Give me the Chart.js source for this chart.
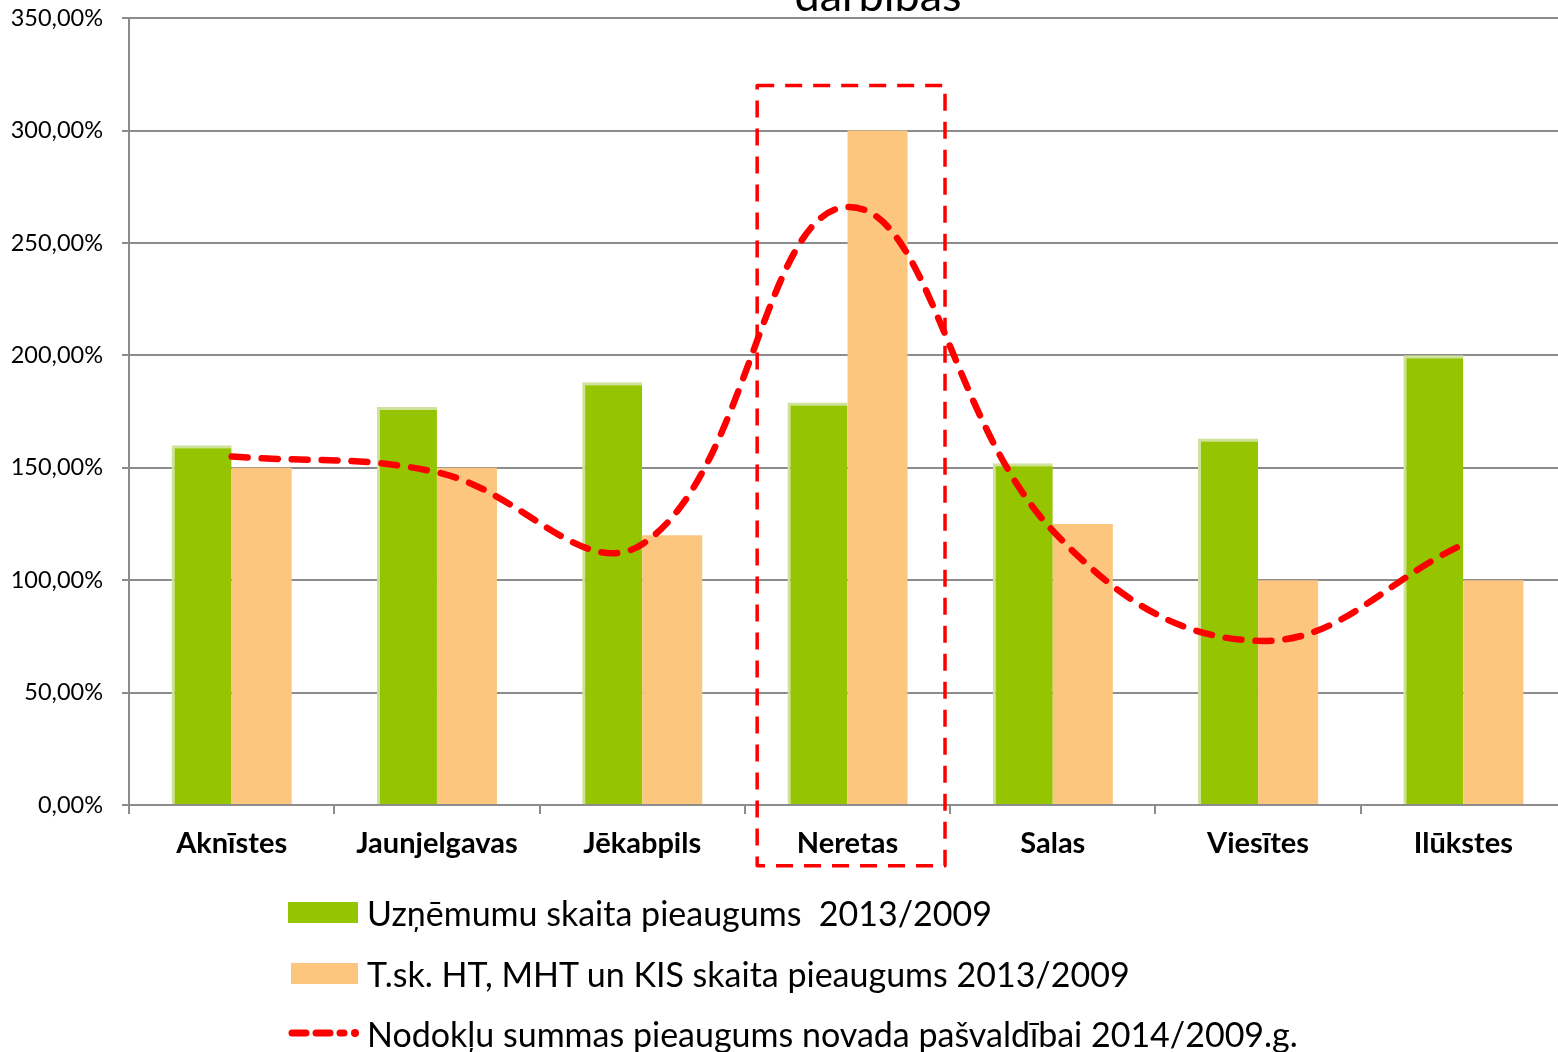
<!DOCTYPE html>
<html>
<head>
<meta charset="utf-8">
<script src="https://cdn.jsdelivr.net/npm/chart.js@4/dist/chart.umd.min.js"></script>
<style>
  html, body { margin: 0; padding: 0; background: #fff; }
  #wrap { position: relative; width: 1558px; height: 1052px; overflow: hidden; font-family: Lato, "Open Sans", sans-serif; }
  #c { position: absolute; left: 0; top: -15px; }
  #title { position: absolute; left: 0; width: 1756px; text-align: center; top: -33px; font-size: 45px; color: #000; }
  .lg { position: absolute; left: 288px; height: 40px; display: flex; align-items: center; font-size: 34px; color: #000; white-space: pre; }
  .lg .sw { width: 70px; height: 21px; margin-right: 9px; }
  .lg svg { margin-right: 6px; }
</style>
</head>
<body>
<div id="wrap">
  <canvas id="c" width="1566" height="1067"></canvas>
  <div id="title">darbības</div>
  <div class="lg" style="top:892px"><div class="sw" style="background:#95c500"></div><span id="l0"></span></div>
  <div class="lg" style="top:953px"><div class="sw" style="background:#fcc67e;width:67px;margin-left:3px"></div><span id="l1"></span></div>
  <div class="lg" style="top:1013px"><svg width="73" height="20"><line x1="4" y1="10" x2="56" y2="10" stroke="#ff0000" stroke-width="7" stroke-linecap="round" stroke-dasharray="14 10"/><circle cx="67" cy="10" r="4" fill="#ff0000"/></svg><span id="l2"></span></div>
</div>
<script>
const categories = ['Aknīstes', 'Jaunjelgavas', 'Jēkabpils', 'Neretas', 'Salas', 'Viesītes', 'Ilūkstes'];
const seriesNames = [
  'Uzņēmumu skaita pieaugums  2013/2009',
  'T.sk. HT, MHT un KIS skaita pieaugums 2013/2009',
  'Nodokļu summas pieaugums novada pašvaldībai 2014/2009.g.'
];
const firmsGrowth = [160, 177, 188, 179, 152, 163, 200];
const htGrowth = [150, 150, 120, 300, 125, 100, 100];
const taxGrowth = [155, 148, 116, 266, 122, 73, 116];
const yTicks = [0, 50, 100, 150, 200, 250, 300, 350];

document.getElementById('l0').textContent = seriesNames[0];
document.getElementById('l1').textContent = seriesNames[1];
document.getElementById('l2').textContent = seriesNames[2];

const boxPlugin = {
  id: 'neretasBox',
  afterDatasetsDraw(chart) {
    const xs = chart.scales.x, ys = chart.scales.y;
    const cw = xs.width / categories.length;
    const idx = categories.indexOf('Neretas');
    const cx = xs.getPixelForValue(idx);
    const l = cx - 0.44 * cw, r = cx + 0.475 * cw;
    const t = ys.getPixelForValue(320), b = ys.getPixelForValue(-27);
    const ctx = chart.ctx;
    ctx.save();
    ctx.strokeStyle = '#ff0000';
    ctx.lineWidth = 3.5;
    ctx.setLineDash([17, 11]);
    ctx.lineJoin = 'round';
    ctx.beginPath();
    ctx.rect(l, t, r - l, b - t);
    ctx.stroke();
    ctx.restore();
  }
};

const gridColor = '#8c8c8c';
new Chart(document.getElementById('c'), {
  data: {
    labels: categories,
    datasets: [
      {
        type: 'line', label: seriesNames[2], data: taxGrowth, order: 0,
        borderColor: '#ff0000', borderWidth: 6.5, borderDash: [16, 14], borderCapStyle: 'round',
        pointRadius: 0, tension: 0.4, fill: false
      },
      {
        type: 'bar', label: seriesNames[0], data: firmsGrowth, order: 1,
        backgroundColor: '#95c500', borderColor: '#cfe29c',
        borderWidth: { left: 3, top: 3, right: 0, bottom: 0 }, borderSkipped: 'bottom',
        categoryPercentage: 0.585, barPercentage: 1.0
      },
      {
        type: 'bar', label: seriesNames[1], data: htGrowth, order: 1,
        backgroundColor: '#fcc67e', borderWidth: 0,
        categoryPercentage: 0.585, barPercentage: 1.0
      }
    ]
  },
  plugins: [boxPlugin],
  options: {
    responsive: false,
    animation: false,
    layout: { padding: { top: 4, right: 0, bottom: 177, left: 0 } },
    plugins: { legend: { display: false }, tooltip: { enabled: false }, title: { display: false } },
    scales: {
      x: {
        offset: true,
        grid: { display: true, drawOnChartArea: false, offset: true, color: gridColor, lineWidth: 2, tickLength: 9 },
        border: { color: gridColor, width: 2 },
        ticks: { color: '#000', font: { family: 'Lato', size: 29, weight: 'bold' }, padding: 12, maxRotation: 0 },
        afterFit(s) { s.height = 70; }
      },
      y: {
        min: 0, max: 350,
        afterBuildTicks(s) { s.ticks = yTicks.map(v => ({ value: v })); },
        grid: { color: gridColor, lineWidth: 2, tickLength: 7 },
        border: { color: gridColor, width: 2 },
        ticks: {
          color: '#000', font: { family: 'Lato', size: 23.5 }, padding: 19,
          callback: v => v.toFixed(2).replace('.', ',') + '%'
        },
        afterFit(s) { s.width = 129; }
      }
    }
  }
});
</script>
</body>
</html>
